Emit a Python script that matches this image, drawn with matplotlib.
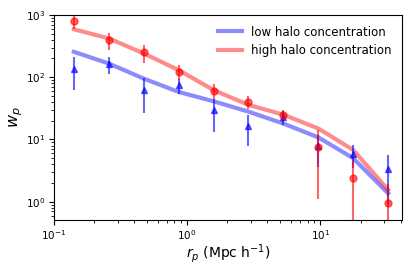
import numpy as np
import matplotlib
matplotlib.use('Agg')
import matplotlib.pyplot as plt

# projected separations (Mpc/h)
rp = [0.141, 0.258, 0.472, 0.863, 1.58, 2.88, 5.27, 9.64, 17.6, 32.2]

# model curves
wp_low_model = [256, 166, 95, 58, 41, 28, 18, 10.8, 5.0, 1.36]
wp_high_model = [590, 420, 241, 130, 62, 36, 25, 15, 6.8, 1.55]

# measurements
wp_low = [138, 162, 62, 74, 29.4, 16.3, 23, 7.8, 5.9, 3.3]
wp_low_err = [75, 50, 35, 21, 16, 8.5, 6, 4.2, 2.4, 2.4]
wp_high = [810, 390, 250, 122, 61, 40.6, 24.4, 7.6, 2.44, 0.94]
wp_high_err = [215, 118, 82, 33, 17, 10, 5, 6.5, 2.4, 1.0]

fig = plt.figure(figsize=(4.15, 2.77), dpi=100)
ax = fig.add_axes([0.130, 0.206, 0.839, 0.740])

ax.plot(rp, wp_low_model, color='blue', lw=3, alpha=0.45, label='low halo concentration')
ax.plot(rp, wp_high_model, color='red', lw=3, alpha=0.45, label='high halo concentration')

ax.errorbar(rp, wp_low, yerr=wp_low_err, fmt='^', color='blue', ms=5,
            alpha=0.6, elinewidth=1.5, capsize=0)
ax.errorbar(rp, wp_high, yerr=wp_high_err, fmt='o', color='red', ms=5,
            alpha=0.6, elinewidth=1.5, capsize=0)

ax.set_xscale('log')
ax.set_yscale('log')
ax.set_xlim(0.1, 41)
ax.set_ylim(0.51, 1000)
ax.tick_params(labelsize=7.5, pad=2.5)
ax.set_xlabel(r'$r_p$ (Mpc h$^{-1}$)', fontsize=10, labelpad=0)
ax.set_ylabel(r'$w_p$', fontsize=11.5, labelpad=1)
ax.legend(fontsize=8.5, frameon=False, loc='upper right')

fig.savefig('out.png', dpi=100)
